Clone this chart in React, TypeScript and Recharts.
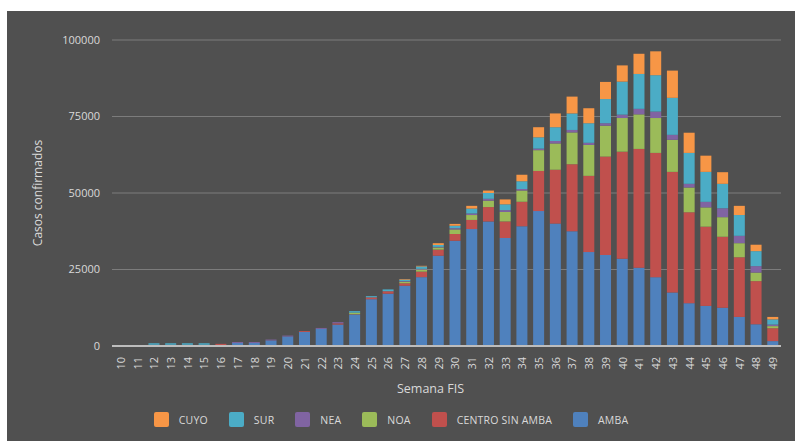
import React from 'react';
import { BarChart, Bar, XAxis, YAxis, CartesianGrid, Legend } from 'recharts';

const WEEKS = [
  '10', '11', '12', '13', '14', '15', '16', '17', '18', '19', '20', '21', '22', '23', '24', '25', '26', '27', '28', '29',
  '30', '31', '32', '33', '34', '35', '36', '37', '38', '39', '40', '41', '42', '43', '44', '45', '46', '47', '48', '49',
];

const AMBA = [
  0, 0, 400, 400, 400, 400, 300, 1000, 1000, 1800, 3100, 4600, 5600, 7000, 10300, 15300, 17100, 19700, 22500, 29500,
  34400, 38200, 40700, 35300, 39100, 44100, 40000, 37500, 30700, 29700, 28500, 25600, 22500, 17500, 14000, 13100, 12500, 9500, 7100, 1600,
];
const CENTRO = [
  0, 0, 0, 0, 0, 0, 400, 0, 0, 0, 0, 300, 0, 400, 100, 600, 800, 800, 1800, 2000,
  2200, 3000, 4700, 5400, 8000, 13100, 17600, 21900, 24900, 32200, 35000, 38800, 40600, 39400, 29700, 25900, 23200, 19500, 14100, 4200,
];
const NOA = [
  0, 0, 0, 0, 0, 0, 0, 0, 0, 0, 0, 0, 0, 0, 500, 0, 0, 500, 700, 700,
  1500, 1600, 2100, 3100, 3700, 6800, 8600, 10400, 10100, 10100, 11000, 11300, 11400, 10500, 8100, 6300, 6400, 4600, 2800, 700,
];
const NEA = [
  0, 0, 0, 0, 0, 0, 0, 300, 300, 300, 300, 0, 300, 400, 0, 0, 0, 200, 200, 200,
  400, 500, 600, 600, 500, 500, 800, 800, 700, 800, 1100, 1800, 2100, 1600, 1200, 1800, 2900, 2400, 2100, 500,
];
const SUR = [
  0, 0, 500, 500, 500, 500, 0, 0, 0, 0, 0, 0, 0, 0, 500, 400, 600, 500, 800, 600,
  800, 1600, 1900, 1900, 2500, 3700, 4500, 5400, 6400, 7900, 10800, 11400, 11900, 12100, 10100, 9800, 8000, 6800, 4900, 1700,
];
const CUYO = [
  0, 0, 0, 0, 0, 0, 0, 0, 0, 0, 0, 0, 0, 0, 0, 0, 0, 200, 200, 600,
  600, 900, 800, 1600, 2200, 3300, 4500, 5500, 4900, 5600, 5300, 6600, 7800, 8900, 6600, 5300, 3800, 3000, 2100, 800,
];

const Y_TICKS = [0, 25000, 50000, 75000, 100000];

// stacking order bottom -> top
const SERIES = [
  { key: 'AMBA', name: 'AMBA', color: '#4F81BD', values: AMBA },
  { key: 'CENTRO', name: 'CENTRO SIN AMBA', color: '#C0504D', values: CENTRO },
  { key: 'NOA', name: 'NOA', color: '#9BBB59', values: NOA },
  { key: 'NEA', name: 'NEA', color: '#8064A2', values: NEA },
  { key: 'SUR', name: 'SUR', color: '#4BACC6', values: SUR },
  { key: 'CUYO', name: 'CUYO', color: '#F79646', values: CUYO },
];

const data = WEEKS.map((w, i) => {
  const row: Record<string, string | number> = { week: w };
  SERIES.forEach((s) => {
    row[s.key] = s.values[i];
  });
  return row;
});

const FONT = '"Open Sans", "Liberation Sans", sans-serif';
const TEXT = '#d9d9d9';

const WeekTick = (props: any) => {
  const { x, y, payload } = props;
  return (
    <text
      x={x}
      y={y + 3}
      transform={`rotate(-90 ${x} ${y + 3})`}
      textAnchor="end"
      dominantBaseline="central"
      fill={TEXT}
      fontSize={11}
      fontFamily={FONT}
    >
      {payload.value}
    </text>
  );
};

const LegendBox = () => {
  const items = [...SERIES].reverse();
  return (
    <div style={{ display: 'flex', justifyContent: 'center', alignItems: 'center', fontFamily: FONT, fontSize: 10.5, color: TEXT, paddingRight: 6 }}>
      {items.map((s, i) => (
        <div key={s.key} style={{ display: 'flex', alignItems: 'center', marginRight: i < items.length - 1 ? 21 : 0 }}>
          <span
            style={{
              display: 'inline-block',
              width: 15,
              height: 15,
              borderRadius: 2,
              background: s.color,
              marginRight: 10,
            }}
          />
          <span style={{ letterSpacing: 0.2 }}>{s.name}</span>
        </div>
      ))}
    </div>
  );
};

export default function App() {
  return (
    <div style={{ position: 'absolute', left: 0, top: 0, width: 795, height: 441, background: '#ffffff' }}>
      <div style={{ position: 'absolute', left: 7, top: 11, width: 788, height: 430, background: '#505050' }}>
        <BarChart
          width={788}
          height={430}
          data={data}
          margin={{ top: 29, right: 14, left: 0, bottom: 4 }}
          barSize={11}
        >
          <CartesianGrid vertical={false} stroke="#7c7c7c" strokeWidth={1} />
          <XAxis
            dataKey="week"
            height={66}
            interval={0}
            tickLine={false}
            axisLine={{ stroke: '#bdbdbd', strokeWidth: 2 }}
            tick={<WeekTick />}
            label={{
              content: (p: any) => {
                const vb = p.viewBox || { x: 0, y: 0, width: 0 };
                return (
                  <text
                    x={vb.x + vb.width / 2 - 16}
                    y={vb.y + 47}
                    textAnchor="middle"
                    fill={TEXT}
                    fontSize={12.5}
                    fontFamily={FONT}
                  >
                    Semana FIS
                  </text>
                );
              },
            }}
          />
          <YAxis
            width={105}
            domain={[0, 100000]}
            ticks={Y_TICKS}
            interval={0}
            tickLine={false}
            axisLine={false}
            tick={{ fill: TEXT, fontSize: 11, fontFamily: FONT }}
            tickMargin={6}
            label={{
              value: 'Casos confirmados',
              angle: -90,
              position: 'insideLeft',
              offset: 31,
              style: { fill: TEXT, fontSize: 12, fontFamily: FONT, textAnchor: 'middle' },
            }}
          />
          <Legend verticalAlign="bottom" height={25} content={<LegendBox />} />
          {SERIES.map((s) => (
            <Bar key={s.key} dataKey={s.key} name={s.name} stackId="a" fill={s.color} isAnimationActive={false} />
          ))}
        </BarChart>
      </div>
    </div>
  );
}
